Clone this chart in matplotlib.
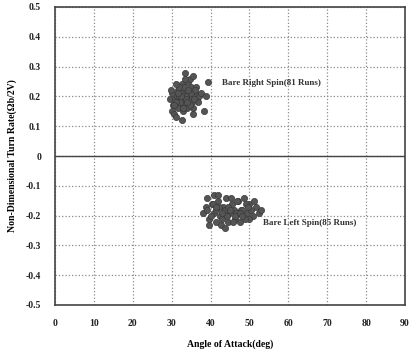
import numpy as np
import matplotlib.pyplot as plt

# estimated from the scanned plot
right_aoa = [29.5, 30.2, 30.8, 31.5, 32.0, 32.6, 33.1, 33.8, 34.4, 35.0,
             30.0, 30.9, 31.7, 32.4, 33.0, 33.7, 34.3, 35.2, 35.9, 36.5,
             29.8, 30.6, 31.4, 32.2, 33.2, 34.0, 34.9, 35.6, 36.3, 37.1,
             30.4, 31.2, 32.0, 32.9, 33.6, 34.6, 35.4, 36.8, 37.6, 38.3,
             31.0, 31.9, 32.7, 33.5, 34.8, 36.0, 38.8, 39.4, 35.5, 33.3,
             31.2, 32.5, 33.9, 34.1, 32.8, 31.6, 30.5, 35.8]
right_rate = [0.19, 0.21, 0.17, 0.22, 0.19, 0.24, 0.18, 0.22, 0.20, 0.23,
              0.15, 0.19, 0.16, 0.21, 0.17, 0.20, 0.25, 0.18, 0.21, 0.19,
              0.22, 0.14, 0.20, 0.18, 0.23, 0.16, 0.21, 0.16, 0.23, 0.20,
              0.17, 0.13, 0.23, 0.15, 0.19, 0.26, 0.14, 0.18, 0.21, 0.15,
              0.24, 0.20, 0.12, 0.26, 0.17, 0.22, 0.20, 0.25, 0.27, 0.28,
              0.18, 0.20, 0.18, 0.22, 0.16, 0.21, 0.17, 0.19]

left_aoa = [38.0, 38.8, 39.5, 40.3, 41.0, 41.8, 42.5, 43.3, 44.0, 44.8,
            45.5, 46.3, 47.0, 47.8, 48.5, 49.3, 50.0, 50.8, 51.6, 52.4,
            39.2, 40.0, 40.8, 41.5, 42.2, 43.0, 43.8, 44.5, 45.2, 46.0,
            46.8, 47.5, 48.2, 49.0, 49.8, 50.5, 51.2, 39.6, 41.3, 42.8,
            44.2, 45.8, 47.3, 48.8, 40.6, 43.6, 46.5, 49.5, 53.0, 42.0,
            41.5, 43.0, 44.6, 46.2, 47.6, 45.0, 48.0, 39.0]
left_rate = [-0.19, -0.17, -0.21, -0.16, -0.19, -0.15, -0.20, -0.17, -0.14, -0.19,
             -0.16, -0.21, -0.15, -0.18, -0.14, -0.19, -0.16, -0.20, -0.17, -0.19,
             -0.14, -0.20, -0.13, -0.22, -0.17, -0.21, -0.18, -0.22, -0.14, -0.18,
             -0.15, -0.22, -0.18, -0.16, -0.21, -0.18, -0.15, -0.23, -0.18, -0.23,
             -0.20, -0.22, -0.19, -0.21, -0.16, -0.24, -0.19, -0.17, -0.18, -0.13,
             -0.17, -0.19, -0.17, -0.20, -0.19, -0.18, -0.20, -0.18]

x_ticks = [0, 10, 20, 30, 40, 50, 60, 70, 80, 90]
y_ticks = [0.5, 0.4, 0.3, 0.2, 0.1, 0, -0.1, -0.2, -0.3, -0.4, -0.5]

plt.rcParams['font.family'] = ['Liberation Serif', 'DejaVu Serif']
plt.rcParams['font.weight'] = 'bold'

fig = plt.figure(figsize=(4.15, 3.62), dpi=100)
ax = fig.add_axes([55 / 415, 57 / 362, 350 / 415, 298 / 362])

ax.scatter(right_aoa, right_rate, s=20, c='#555555', edgecolors='#3a3a3a', linewidths=0.5, zorder=3)
ax.scatter(left_aoa, left_rate, s=20, c='#555555', edgecolors='#3a3a3a', linewidths=0.5, zorder=3)

ax.text(43, 0.245, 'Bare Right Spin(81 Runs)', fontsize=6.5, color='#333333',
        fontweight='bold', va='center')
ax.text(53.5, -0.225, 'Bare Left Spin(85 Runs)', fontsize=6.5, color='#333333',
        fontweight='bold', va='center')

ax.set_xlim(0, 90)
ax.set_ylim(-0.5, 0.5)
ax.set_xticks(x_ticks)
ax.set_yticks(y_ticks)
ax.set_yticklabels(['0.5', '0.4', '0.3', '0.2', '0.1', '0', '-0.1', '-0.2', '-0.3', '-0.4', '-0.5'])
ax.tick_params(labelsize=7, length=0, colors='#222222', pad=10)
ax.grid(True, linestyle=':', color='#8a8a8a', linewidth=0.9)
ax.axhline(0, color='#444444', linewidth=1.0)
for s in ax.spines.values():
    s.set_color('#444444')
    s.set_linewidth(1.2)

ax.set_xlabel('Angle of Attack(deg)', fontsize=7, fontweight='bold', labelpad=8)
ax.set_ylabel('Non-Dimensional Turn Rate(Ωb/2V)', fontsize=7, fontweight='bold', labelpad=6)

fig.savefig('out.png', dpi=100)
